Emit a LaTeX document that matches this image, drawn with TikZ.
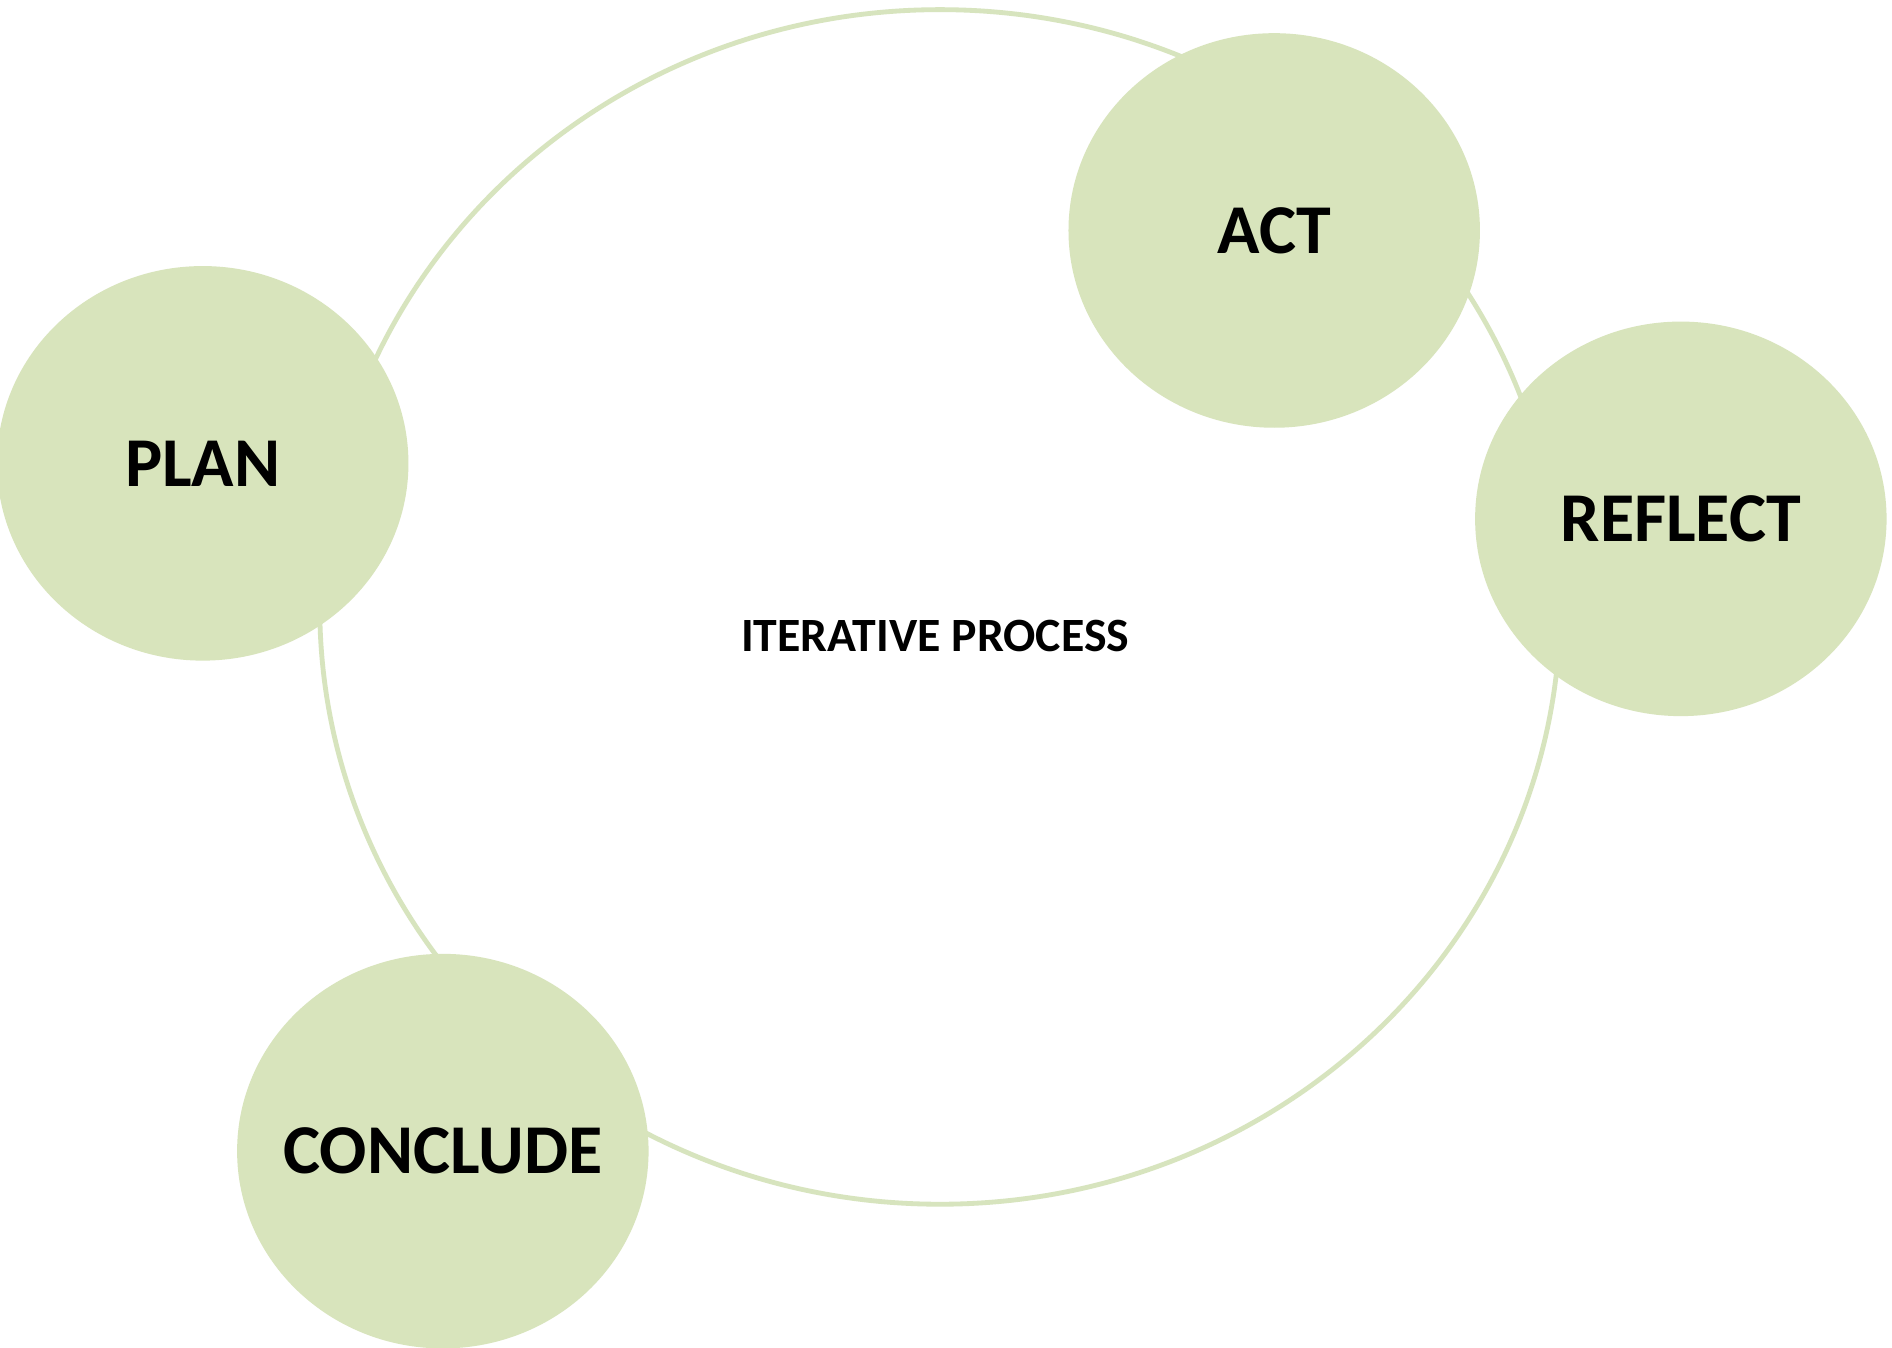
\documentclass[tikz,border=0pt]{standalone}
\usepackage{fontspec}
\setmainfont{Carlito}
\usetikzlibrary{shapes.geometric}

\definecolor{stagegreen}{RGB}{216,228,188}
\definecolor{ringgreen}{RGB}{215,228,190}

\begin{document}
\begin{tikzpicture}[x=0.5pt, y=-0.5pt,
		stage/.style={ellipse, fill=stagegreen, inner sep=0pt, minimum width=170.5pt, minimum height=163.5pt,
			label={[font=\fontsize{29}{30}\selectfont\bfseries]center:#1}}]
		\useasboundingbox (0, 0) rectangle (1568, 1117);
		\fill[white] (0, 0) rectangle (1568, 1117);
		\node[ellipse, draw=ringgreen, line width=2pt, minimum width=514pt, minimum height=495pt, inner sep=0pt] (cycle) at (779, 503) {};
		\node[font=\fontsize{19.8}{20}\selectfont\bfseries] (title) at (775, 527) {ITERATIVE PROCESS};
		\node[stage=ACT] (act) at (1056, 191) {};
		\node[stage=PLAN] (plan) at (168, 384) {};
		\node[stage=REFLECT] (reflect) at (1393, 430) {};
		\node[stage=CONCLUDE] (conclude) at (367, 954) {};
	\end{tikzpicture}
\end{document}
